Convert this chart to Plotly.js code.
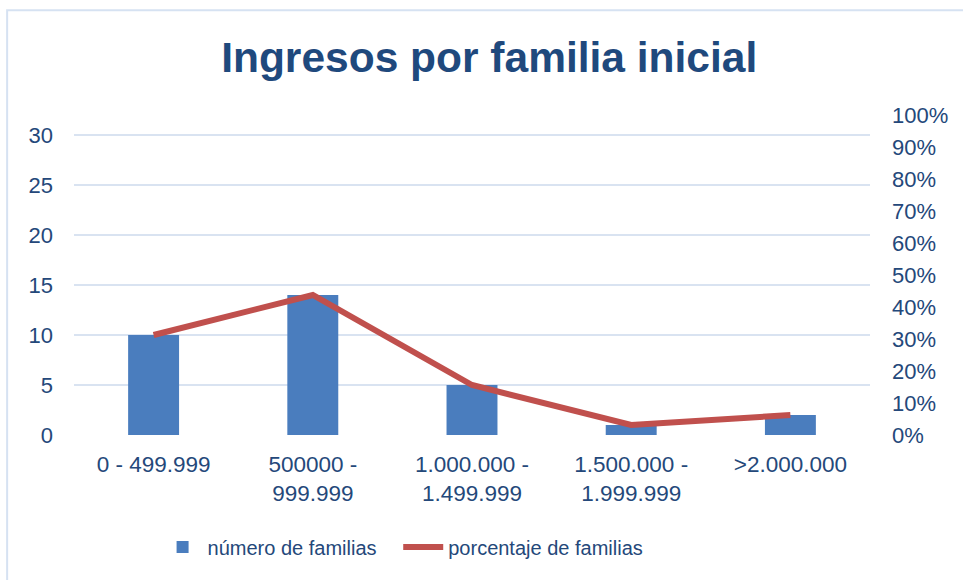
<!DOCTYPE html>
<html>
<head>
<meta charset="utf-8">
<script src="https://cdn.plot.ly/plotly-3.0.1.min.js"></script>
<style>
  html, body { margin: 0; padding: 0; background: #fff; }
  #chart { width: 963px; height: 580px; }
</style>
</head>
<body>
<div id="chart"></div>
<script>
var categories = ['0 - 499.999', '500000 -<br>999.999', '1.000.000 -<br>1.499.999', '1.500.000 -<br>1.999.999', '>2.000.000'];
var numFamilias = [10, 14, 5, 1, 2];
var pctFamilias = [0.3125, 0.4375, 0.15625, 0.03125, 0.0625];

var barColor = '#4A7DBE';
var lineColor = '#C0504D';
var textColor = '#24487A';
var gridColor = '#D9E3F1';
var font = 'Liberation Sans, Arial, sans-serif';

var data = [
    {
        x: categories,
        y: numFamilias,
        name: 'número de familias\u00a0\u00a0\u00a0',
        type: 'bar',
        width: 0.32,
        marker: { color: barColor }
    },
    {
        x: categories,
        y: pctFamilias,
        name: 'porcentaje de familias',
        type: 'scatter',
        mode: 'lines',
        yaxis: 'y2',
        line: { color: lineColor, width: 6 }
    }
];

var layout = {
    width: 963,
    height: 580,
    margin: { l: 74, r: 93, t: 115, b: 145 },
    paper_bgcolor: '#fff',
    plot_bgcolor: '#fff',
    font: { family: font, color: textColor, size: 21 },
    title: {
        text: '<b>Ingresos por familia inicial</b>',
        font: { family: font, size: 42.5, color: '#1F497D' },
        x: 0.508, xanchor: 'center',
        yref: 'container', y: 0.902, yanchor: 'middle'
    },
    xaxis: {
        showgrid: false,
        zeroline: false,
        showline: false,
        ticks: '',
        ticklabelstandoff: 13,
        tickfont: { size: 22.5, color: textColor }
    },
    yaxis: {
        range: [0, 32],
        dtick: 5,
        tick0: 0,
        showgrid: true,
        gridcolor: gridColor,
        gridwidth: 2,
        zeroline: false,
        showline: false,
        ticks: '',
        ticklabelstandoff: 20,
        tickfont: { size: 22, color: textColor }
    },
    yaxis2: {
        overlaying: 'y',
        side: 'right',
        range: [0, 1],
        dtick: 0.1,
        tickformat: '.0%',
        showgrid: false,
        zeroline: false,
        showline: false,
        ticks: '',
        ticklabelstandoff: 21,
        tickfont: { size: 22, color: textColor }
    },
    showlegend: true,
    legend: {
        orientation: 'h',
        x: 0.105, xanchor: 'left',
        y: -0.35, yanchor: 'middle',
        font: { size: 20, color: textColor },
        itemwidth: 40
    },
    shapes: [
        {
            type: 'rect',
            xref: 'paper', yref: 'paper',
            x0: -0.084, x1: 1.2,
            y0: -0.5, y1: 1.327,
            line: { color: '#D6E2F2', width: 2 },
            fillcolor: 'rgba(0,0,0,0)'
        }
    ]
};

Plotly.newPlot('chart', data, layout, { displayModeBar: false, staticPlot: true });
</script>
</body>
</html>
